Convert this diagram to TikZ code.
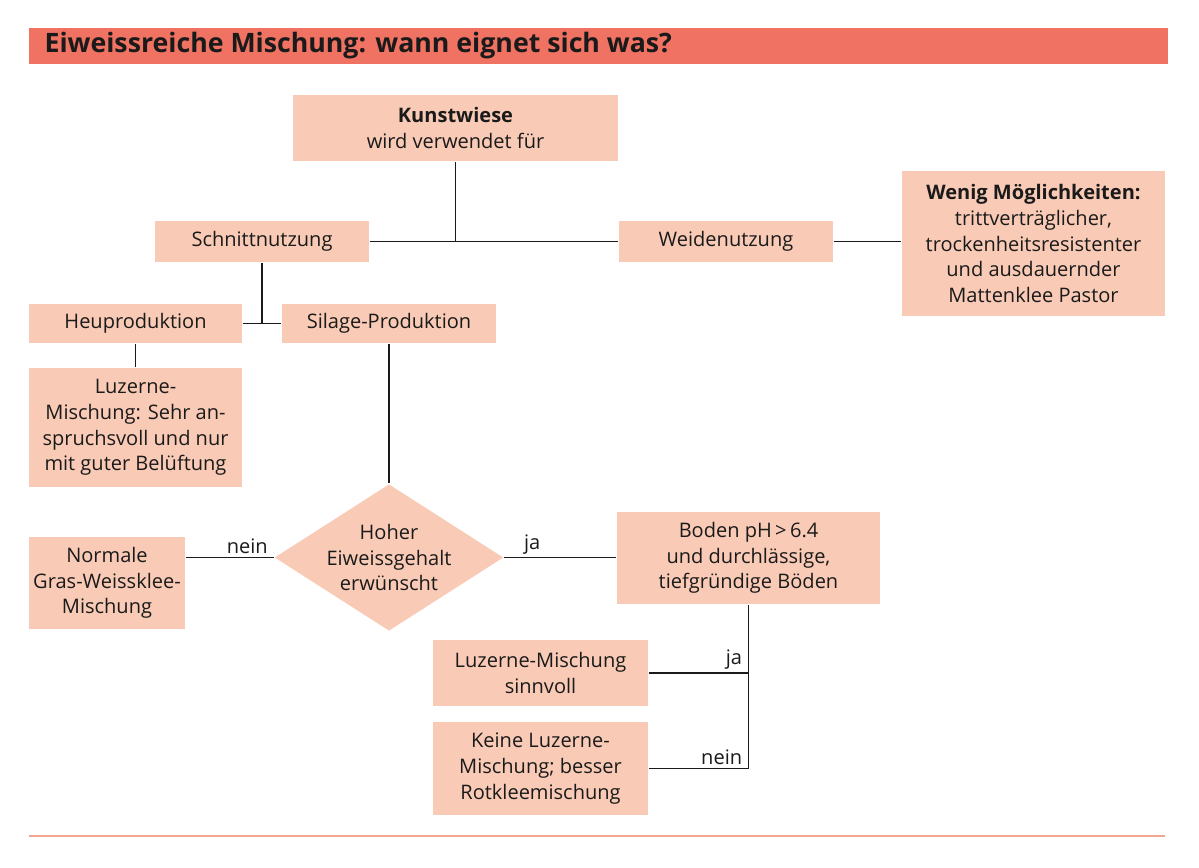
\documentclass[tikz,border=0pt]{standalone}
\usepackage{fontspec}
\setmainfont{Open Sans}
\usetikzlibrary{shapes.geometric}
\definecolor{boxfill}{HTML}{F9CBB6}
\definecolor{titlebar}{HTML}{EF7262}
\definecolor{rulecol}{HTML}{F3A58E}
\definecolor{ink}{HTML}{1A1A1A}
\tikzset{
  box/.style={fill=boxfill, inner sep=0pt, align=center, text=ink,
    font=\fontsize{11.4}{14.6}\selectfont},
  lbl/.style={font=\fontsize{11.4}{14.6}\selectfont, text=ink, inner sep=1.5pt}
}

\begin{document}
\begin{tikzpicture}[x=0.02cm, y=-0.02cm, line width=0.85pt, draw=ink]
\useasboundingbox (0,0) rectangle (1199,867);
\fill[titlebar] (29,28) rectangle (1168,64);
\node[anchor=west, text=ink, font=\bfseries\fontsize{15.2}{18}\selectfont] (title) at (38,46) {Eiweissreiche Mischung: wann eignet sich was?};
\draw[rulecol, line width=0.6pt] (29,836) -- (1165,836);

\node[box, minimum width=6.5cm, minimum height=1.32cm] (kunst) at (455.5,128) {\textbf{Kunstwiese}\\wird verwendet für};
\node[box, minimum width=4.28cm, minimum height=0.82cm] (schnitt) at (262,241.5) {Schnittnutzung};
\node[box, minimum width=4.28cm, minimum height=0.82cm] (weide) at (726,241.5) {Weidenutzung};
\node[box, minimum width=5.26cm, minimum height=2.9cm] (wenig) at (1033.5,243.5) {\textbf{Wenig Möglichkeiten:}\\trittverträglicher,\\trockenheitsresistenter\\und ausdauernder\\Mattenklee Pastor};
\node[box, minimum width=4.26cm, minimum height=0.78cm] (heu) at (135.5,323.5) {Heuproduktion};
\node[box, minimum width=4.28cm, minimum height=0.78cm] (silage) at (389,323.5) {Silage-Produktion};
\node[box, minimum width=4.26cm, minimum height=2.38cm] (luzerne) at (135.5,427.5) {Luzerne-\\Mischung: Sehr an-\\spruchsvoll und nur\\mit guter Belüftung};
\node[box, diamond, aspect=1.56, minimum width=4.52cm, minimum height=2.9cm] (eiweiss) at (389,557.5) {Hoher\\Eiweissgehalt\\erwünscht};
\node[box, minimum width=3.12cm, minimum height=1.84cm] (normal) at (107,583) {Normale\\Gras-Weissklee-\\Mischung};
\node[box, minimum width=5.26cm, minimum height=1.84cm] (boden) at (748.5,558) {Boden pH\,>\,6.4\\und durchlässige,\\tiefgründige Böden};
\node[box, minimum width=4.3cm, minimum height=1.32cm] (sinnvoll) at (540.5,673) {Luzerne-Mischung\\sinnvoll};
\node[box, minimum width=4.3cm, minimum height=1.86cm] (keine) at (540.5,768.5) {Keine Luzerne-\\Mischung; besser\\Rotkleemischung};

\draw (kunst.south) -- (kunst.south |- schnitt.east);
\draw (schnitt.east) -- (weide.west);
\draw (weide.east) -- (weide.east -| wenig.west);
\draw (schnitt.south) -- (schnitt.south |- heu.east);
\draw (heu.east) -- (silage.west);
\draw (heu.south) -- (luzerne.north);
\draw (silage.south) -- (eiweiss.north);
\draw (eiweiss.west) -- (eiweiss.west -| normal.east) node[lbl, pos=0.3, above] {nein};
\draw (eiweiss.east) -- (eiweiss.east -| boden.west) node[lbl, pos=0.25, above] {ja};
\draw (boden.south) -- (boden.south |- keine.east) -- (keine.east) node[lbl, pos=0.03, above left] {nein};
\draw (sinnvoll.east) -- (sinnvoll.east -| boden.south) node[lbl, pos=0.97, above left] {ja};
\end{tikzpicture}
\end{document}
